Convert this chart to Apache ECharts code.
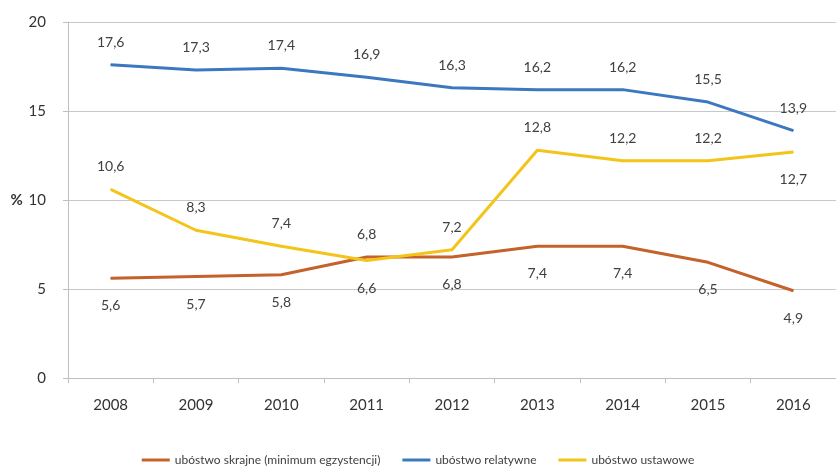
<!DOCTYPE html>
<html><head><meta charset="utf-8">
<script src="https://cdn.jsdelivr.net/npm/echarts@6/dist/echarts.min.js"></script>
<style>html,body{margin:0;padding:0;background:#fff}#c{width:836px;height:468px}</style>
</head><body><div id="c"></div>
<script>
const years = ['2008','2009','2010','2011','2012','2013','2014','2015','2016'];
const skrajne = [5.6, 5.7, 5.8, 6.8, 6.8, 7.4, 7.4, 6.5, 4.9];
const relatywne = [17.6, 17.3, 17.4, 16.9, 16.3, 16.2, 16.2, 15.5, 13.9];
const ustawowe = [10.6, 8.3, 7.4, 6.6, 7.2, 12.8, 12.2, 12.2, 12.7];
const names = ['ubóstwo skrajne (minimum egzystencji)', 'ubóstwo relatywne', 'ubóstwo ustawowe'];
// label placement per series (default) and exceptions by index
const skrajneLabelUp = [3];
const ustawoweLabelDown = [3, 8];

const FONT = "Lato, 'Open Sans', sans-serif";
const fmt = p => String(p.value).replace('.', ',');
const posLabel = (pos) => pos === 'top'
  ? {position: 'top', distance: 15}
  : {position: 'bottom', distance: 20};

function items(vals, defPos, exceptions, otherPos) {
  return vals.map((v, i) => ({value: v, label: posLabel(exceptions.includes(i) ? otherPos : defPos)}));
}

function series(name, data, color) {
  return {
    name, type: 'line', data, showSymbol: true, symbol: 'circle', symbolSize: 1,
    itemStyle: {color}, lineStyle: {color, width: 3}, z: 3,
    label: {show: true, formatter: fmt, color: '#404040', fontSize: 14, fontFamily: FONT},
    emphasis: {disabled: true}
  };
}

const chart = echarts.init(document.getElementById('c'));
chart.setOption({
  animation: false,
  backgroundColor: '#fff',
  grid: {left: 68, right: -7, top: 22, bottom: 90},
  legend: {
    bottom: -3, left: 'center', itemWidth: 28, itemHeight: 3, itemGap: 22,
    icon: 'rect',
    textStyle: {color: '#404040', fontSize: 12, fontFamily: FONT},
    data: names
  },
  xAxis: {
    type: 'category', data: years, boundaryGap: true,
    axisLine: {lineStyle: {color: '#bfbfbf', width: 1}},
    axisTick: {show: true, length: 5, lineStyle: {color: '#bfbfbf'}},
    axisLabel: {color: '#333', fontSize: 15, margin: 20, fontFamily: FONT}
  },
  yAxis: {
    type: 'value', min: 0, max: 20, interval: 5,
    name: '%', nameLocation: 'middle', nameRotate: 0, nameGap: 44,
    nameTextStyle: {color: '#333', fontSize: 15, fontWeight: 'bold', fontFamily: FONT},
    axisLine: {show: true, lineStyle: {color: '#bfbfbf'}},
    axisTick: {show: true, length: 5, lineStyle: {color: '#bfbfbf'}},
    axisLabel: {color: '#333', fontSize: 15, margin: 22, fontFamily: FONT},
    splitLine: {lineStyle: {color: '#c8c8c8', width: 1}}
  },
  series: [
    series(names[0], items(skrajne, 'bottom', skrajneLabelUp, 'top'), '#C5612A'),
    series(names[1], items(relatywne, 'top', [], 'bottom'), '#3B78C0'),
    series(names[2], items(ustawowe, 'top', ustawoweLabelDown, 'bottom'), '#F3C419')
  ]
});
</script></body></html>
